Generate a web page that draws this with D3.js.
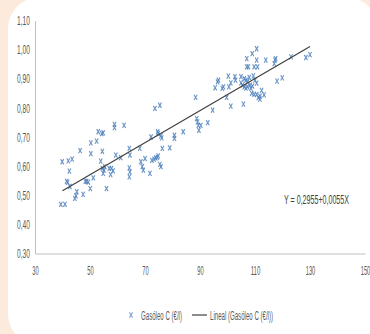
<!DOCTYPE html>
<html>
<head>
<meta charset="utf-8">
<script src="https://cdn.jsdelivr.net/npm/d3@7"></script>
<style>
  html, body { margin: 0; padding: 0; background: #fcebdc; }
  svg { display: block; }
  text { font-family: "Liberation Sans", Arial, sans-serif; }
</style>
</head>
<body>
<svg id="chart" width="370" height="334"></svg>
<script>
// Índice (x) y precio del gasóleo C en €/l (y)
const indexX = [
  39.4, 40.9, 39.9, 42.1, 43.5, 42.5, 41.9, 41.5, 42.7, 44.9, 44.5, 45.2, 47.5, 46.4, 48.3, 48.8,
  49.4, 50.3, 50.1, 51.2, 50.3, 52.4, 53.0, 54.8, 54.3, 54.5, 53.9, 54.5, 55.1, 54.8, 55.4, 56.0,
  57.0, 57.8, 57.5, 58.4, 58.9, 58.9, 62.4, 59.4, 61.2, 64.3, 64.5, 64.3, 64.5, 64.3,
  68.1, 68.5, 69.0, 69.4, 70.0, 71.8, 72.5, 73.3, 73.9, 74.5, 74.8, 75.4, 75.8, 73.6, 75.4, 72.2,
  74.6, 74.8, 75.8, 76.1, 76.3, 79.0, 80.7, 80.7, 83.9, 88.4, 88.8, 89.1, 89.4, 89.6, 90.3, 92.8,
  94.6, 95.5, 96.4, 98.1,
  96.7, 98.5, 100.3, 100.5, 101.2, 102.7, 102.9, 99.7, 101.2, 105.8, 104.9, 104.9, 105.4, 107.0,
  107.0, 107.6, 109.0, 110.6, 110.6, 110.9, 109.7, 113.9, 117.3, 117.5, 117.0, 123.1, 128.5, 130.0,
  118.0, 119.9, 106.1, 106.7, 107.3, 107.9, 108.2, 106.1, 107.3, 108.5, 109.1, 106.7, 109.4, 110.0,
  110.6, 108.8, 109.7, 110.6, 111.2, 111.8, 112.4, 113.3, 111.8
];
const priceY = [
  0.469, 0.469, 0.615, 0.618, 0.624, 0.583, 0.544, 0.548, 0.530, 0.498, 0.489, 0.512, 0.503, 0.653, 0.548, 0.548,
  0.545, 0.643, 0.523, 0.560, 0.680, 0.686, 0.718, 0.714, 0.712, 0.651, 0.617, 0.592, 0.586, 0.575, 0.598, 0.523,
  0.592, 0.592, 0.571, 0.584, 0.743, 0.732, 0.740, 0.638, 0.629, 0.661, 0.638, 0.594, 0.580, 0.563,
  0.661, 0.615, 0.598, 0.586, 0.626, 0.575, 0.620, 0.624, 0.628, 0.630, 0.635, 0.606, 0.598, 0.798, 0.809, 0.700,
  0.718, 0.712, 0.704, 0.697, 0.661, 0.663, 0.706, 0.695, 0.718, 0.836, 0.763, 0.752, 0.740, 0.723, 0.740, 0.749,
  0.792, 0.869, 0.889, 0.867,
  0.895, 0.872, 0.909, 0.872, 0.886, 0.907, 0.895, 0.836, 0.806, 0.813, 0.907, 0.886, 0.878, 0.969,
  0.941, 0.941, 0.986, 1.003, 0.964, 0.941, 0.941, 0.964, 0.964, 0.969, 0.952, 0.975, 0.973, 0.983,
  0.892, 0.903, 0.900, 0.895, 0.890, 0.905, 0.878, 0.872, 0.872, 0.868, 0.875, 0.868, 0.910, 0.895,
  0.885, 0.850, 0.846, 0.846, 0.835, 0.830, 0.860, 0.845, 0.840
];

// Recta de regresión: Y = 0,2955 + 0,0055X
const trendIntercept = 0.2955;
const trendSlope = 0.0055;
const trendRange = [40, 130];

const xTicks = [30, 50, 70, 90, 110, 130, 150];
const yTicks = [0.30, 0.40, 0.50, 0.60, 0.70, 0.80, 0.90, 1.00, 1.10];
const seriesName = "Gasóleo C (€/l)";
const trendName = "Lineal (Gasóleo C (€/l))";
const equationLabel = "Y = 0,2955+0,0055X";

const svg = d3.select("#chart");

// white rounded panel over the peach page
svg.append("rect")
  .attr("x", 8).attr("y", -3)
  .attr("width", 370).attr("height", 349)
  .attr("rx", 32).attr("ry", 32)
  .attr("fill", "#ffffff");

const x = d3.scaleLinear().domain([30, 150]).range([35, 365]);
const y = d3.scaleLinear().domain([0.30, 1.10]).range([253.5, 20.5]);

const fmt = d3.format(".2f");
const comma = v => fmt(v).replace(".", ",");

// y axis
const yAxis = svg.append("g")
  .attr("transform", `translate(${x(30)},0)`)
  .call(d3.axisLeft(y).tickValues(yTicks).tickSize(0).tickPadding(5).tickFormat(comma));
yAxis.select(".domain").attr("stroke", "#bfbfbf");
yAxis.selectAll("text")
  .attr("fill", "#595959")
  .style("font-size", "13px")
  .attr("textLength", 13)
  .attr("lengthAdjust", "spacingAndGlyphs");

// x axis
const xAxis = svg.append("g")
  .attr("transform", `translate(0,${y(0.30)})`)
  .call(d3.axisBottom(x).tickValues(xTicks).tickSize(0).tickPadding(12).tickFormat(d3.format("d")));
xAxis.select(".domain").attr("stroke", "#bfbfbf");
xAxis.selectAll("text")
  .attr("fill", "#595959")
  .style("font-size", "13px")
  .attr("textLength", d => String(d).length * 3.2)
  .attr("lengthAdjust", "spacingAndGlyphs");

// scatter markers (x-shaped)
const points = indexX.map((v, i) => ({ x: v, y: priceY[i] }));
const hw = 1.6, hh = 2.6;
const crossPath = `M${-hw},${-hh}L${hw},${hh}M${hw},${-hh}L${-hw},${hh}`;
svg.append("g")
  .selectAll("path")
  .data(points)
  .join("path")
  .attr("transform", d => `translate(${x(d.x)},${y(d.y)})`)
  .attr("d", crossPath)
  .attr("fill", "none")
  .attr("stroke", "#4f81bd")
  .attr("stroke-width", 1.1)
  .attr("opacity", 0.85);

// linear trend
const trendLine = d3.line().x(d => x(d)).y(d => y(trendIntercept + trendSlope * d));
svg.append("path")
  .datum(trendRange)
  .attr("d", trendLine)
  .attr("fill", "none")
  .attr("stroke", "#404040")
  .attr("stroke-width", 1.2);

// equation label
svg.append("text")
  .attr("x", 284).attr("y", 204)
  .attr("fill", "#404040")
  .style("font-size", "13px")
  .attr("textLength", 65)
  .attr("lengthAdjust", "spacingAndGlyphs")
  .text(equationLabel);

// legend
const legend = svg.append("g").attr("transform", "translate(0,315)");
legend.append("path")
  .attr("transform", "translate(131,0)")
  .attr("d", crossPath)
  .attr("fill", "none")
  .attr("stroke", "#4f81bd")
  .attr("stroke-width", 1.1)
  .attr("opacity", 0.7);
legend.append("text")
  .attr("x", 141).attr("y", 4.5)
  .attr("fill", "#595959")
  .style("font-size", "13px")
  .attr("textLength", 41)
  .attr("lengthAdjust", "spacingAndGlyphs")
  .text(seriesName);
legend.append("line")
  .attr("x1", 192).attr("x2", 207)
  .attr("y1", 0).attr("y2", 0)
  .attr("stroke", "#404040")
  .attr("stroke-width", 1.2);
legend.append("text")
  .attr("x", 210).attr("y", 4.5)
  .attr("fill", "#595959")
  .style("font-size", "13px")
  .attr("textLength", 63)
  .attr("lengthAdjust", "spacingAndGlyphs")
  .text(trendName);
</script>
</body>
</html>
